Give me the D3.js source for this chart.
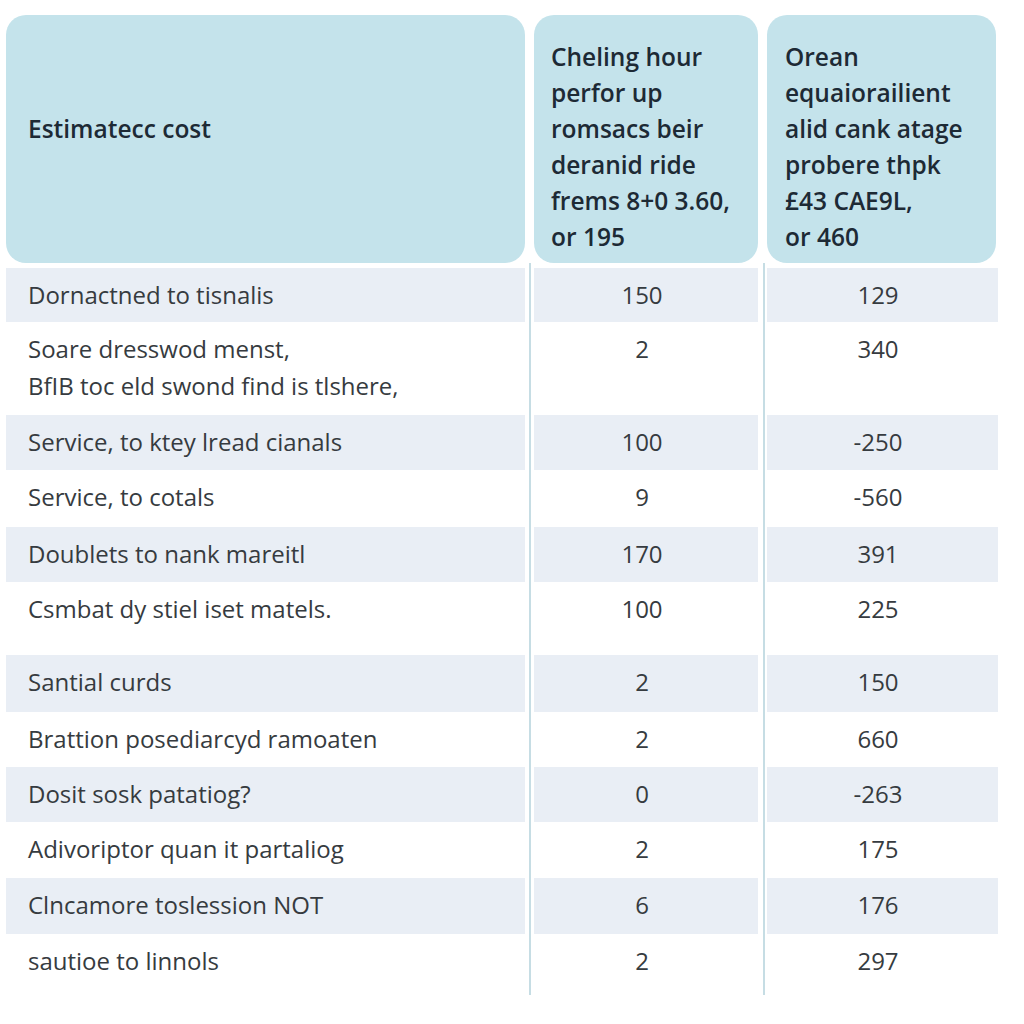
<!DOCTYPE html>
<html>
<head>
<meta charset="utf-8">
<script src="https://cdn.jsdelivr.net/npm/d3@7"></script>
<style>
  body { margin: 0; background: #fff; }
  text { font-family: "Open Sans", "Noto Sans", sans-serif; }
</style>
</head>
<body>
<svg id="chart" width="1024" height="1024"></svg>
<script>
// table contents
const header_col1 = "Estimatecc cost";
const header_col2 = ["Cheling hour", "perfor up", "romsacs beir", "deranid ride", "frems 8+0 3.60,", "or 195"];
const header_col3 = ["Orean", "equaiorailient", "alid cank atage", "probere thpk", "£43 CAE9L,", "or 460"];

const row_labels = [
  ["Dornactned to tisnalis"],
  ["Soare dresswod menst,", "BfIB toc eld swond find is tlshere,"],
  ["Service, to ktey lread cianals"],
  ["Service, to cotals"],
  ["Doublets to nank mareitl"],
  ["Csmbat dy stiel iset matels."],
  ["Santial curds"],
  ["Brattion posediarcyd ramoaten"],
  ["Dosit sosk patatiog?"],
  ["Adivoriptor quan it partaliog"],
  ["Clncamore toslession NOT"],
  ["sautioe to linnols"]
];
const values_a = [150, 2, 100, 9, 170, 100, 2, 2, 0, 2, 6, 2];
const values_b = [129, 340, -250, -560, 391, 225, 150, 660, -263, 175, 176, 297];

// layout
const row_heights = [54, 93, 55, 57, 55, 73, 57, 55, 55, 56, 56, 56];
const cols = [
  {x0: 6, x1: 525},
  {x0: 534, x1: 758},
  {x0: 767, x1: 998}
];
const header_top = 15, header_bottom = 263, body_top = 268;

const svg = d3.select("#chart");

// header boxes
svg.append("g").selectAll("rect")
  .data(cols)
  .join("rect")
    .attr("x", d => d.x0)
    .attr("y", header_top)
    .attr("width", (d, i) => d.x1 - d.x0 - (i === 2 ? 2 : 0))
    .attr("height", header_bottom - header_top)
    .attr("rx", 20)
    .style("fill", "#c4e3eb");

const head = svg.append("g")
  .style("font-size", "24.5px")
  .style("font-weight", 600)
  .style("fill", "#1d2a35");

head.append("text")
  .attr("x", 28)
  .attr("y", 129)
  .attr("dy", "0.35em")
  .text(header_col1);

const line_y = d3.scaleLinear().domain([0, 5]).range([57, 237]);

[header_col2, header_col3].forEach((lines, c) => {
  head.append("g").selectAll("text")
    .data(lines)
    .join("text")
      .attr("x", cols[c + 1].x0 + (c === 0 ? 17 : 18))
      .attr("y", (d, i) => line_y(i))
      .attr("dy", "0.35em")
      .text(d => d);
});

// body rows
const offsets = [0].concat(Array.from(d3.cumsum(row_heights)));
const rows = row_labels.map((lab, i) => ({
  label: lab, a: values_a[i], b: values_b[i],
  y: body_top + offsets[i], h: row_heights[i], i: i
}));

const body = svg.append("g");

body.selectAll(".band")
  .data(rows.filter(d => d.i % 2 === 0).flatMap(r => cols.map(c => ({r, c}))))
  .join("rect")
    .attr("class", "band")
    .attr("x", d => d.c.x0)
    .attr("y", d => d.r.y)
    .attr("width", d => d.c.x1 - d.c.x0)
    .attr("height", d => d.r.h)
    .style("fill", "#e9eef5");

// column separators
body.selectAll(".sep")
  .data([530, 764])
  .join("line")
    .attr("class", "sep")
    .attr("x1", d => d).attr("x2", d => d)
    .attr("y1", header_bottom).attr("y2", 995)
    .style("stroke", "#b3d2db")
    .style("stroke-width", 1.5);

const row_g = body.selectAll(".row")
  .data(rows)
  .join("g")
    .attr("class", "row")
    .attr("transform", d => `translate(0, ${d.y})`)
    .style("font-size", "24px")
    .style("fill", "#363b40");

row_g.selectAll(".lab")
  .data(d => d.label)
  .join("text")
    .attr("class", "lab")
    .attr("x", 28)
    .attr("y", (d, i) => 28 + i * 37)
    .attr("dy", "0.35em")
    .text(d => d);

row_g.append("text")
  .attr("x", 642)
  .attr("y", 28)
  .attr("dy", "0.35em")
  .attr("text-anchor", "middle")
  .text(d => String(d.a));

row_g.append("text")
  .attr("x", 878)
  .attr("y", 28)
  .attr("dy", "0.35em")
  .attr("text-anchor", "middle")
  .text(d => String(d.b));
</script>
</body>
</html>
